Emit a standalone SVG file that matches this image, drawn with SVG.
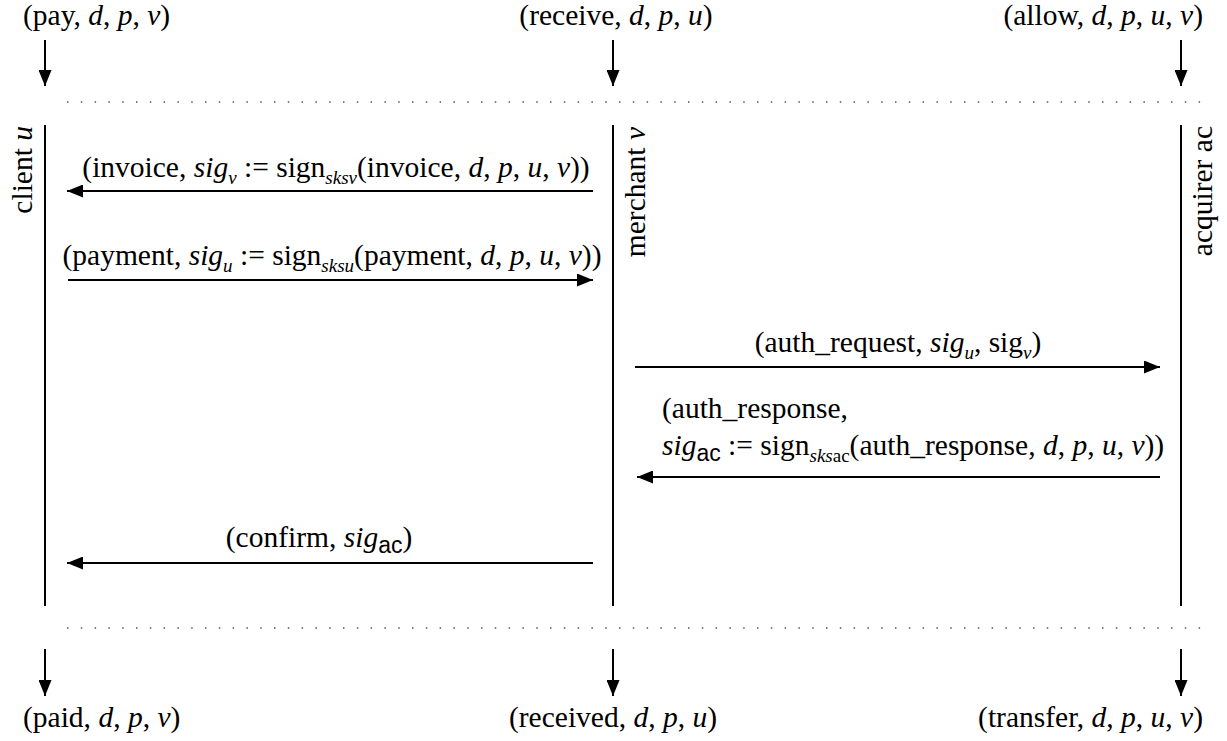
<svg xmlns="http://www.w3.org/2000/svg" width="1227" height="741" viewBox="0 0 1227 741">
<defs>
<style>
.t{font-family:"Liberation Serif","Times New Roman",Times,"DejaVu Serif",serif;font-size:29.5px;fill:#000}
.i{font-style:italic}
.sub{font-size:19px;font-style:italic}
.subr{font-size:19px;font-style:normal}
.ss{font-family:"Liberation Sans",Arial,sans-serif;font-size:23px;font-style:normal}
.life{stroke:#000;stroke-width:2;fill:none}
.msg{stroke:#000;stroke-width:2;fill:none;marker-end:url(#ah)}
.dot{stroke:#555;stroke-width:1.5;stroke-dasharray:1.5 12.3;fill:none}
</style>
<marker id="ah" markerUnits="userSpaceOnUse" markerWidth="16" markerHeight="13" refX="16" refY="6.5" orient="auto">
<path d="M0,0 L16,6.5 L0,13 z" fill="#000"/>
</marker>
</defs>
<rect width="1227" height="741" fill="#fff"/>

<g id="separators">
<line class="dot" x1="67" y1="102" x2="1205" y2="102"/>
<line class="dot" x1="67" y1="628" x2="1205" y2="628"/>
</g>

<g id="client">
<line class="life" x1="45" y1="125" x2="45" y2="606"/>
<text class="t" transform="translate(32,126) rotate(-90)" text-anchor="end">client <tspan class="i">u</tspan></text>
</g>
<g id="merchant">
<line class="life" x1="613" y1="125" x2="613" y2="606"/>
<text class="t" transform="translate(645,127) rotate(-90)" text-anchor="end">merchant <tspan class="i">v</tspan></text>
</g>
<g id="acquirer">
<line class="life" x1="1181" y1="125" x2="1181" y2="606"/>
<text class="t" transform="translate(1212,126) rotate(-90)" text-anchor="end">acquirer ac</text>
</g>

<g id="inputs">
<text class="t" x="23" y="25">(pay, <tspan class="i">d</tspan>, <tspan class="i">p</tspan>, <tspan class="i">v</tspan>)</text>
<text class="t" x="616" y="25" text-anchor="middle">(receive, <tspan class="i">d</tspan>, <tspan class="i">p</tspan>, <tspan class="i">u</tspan>)</text>
<text class="t" x="1203" y="25" text-anchor="end">(allow, <tspan class="i">d</tspan>, <tspan class="i">p</tspan>, <tspan class="i">u</tspan>, <tspan class="i">v</tspan>)</text>
</g>
<g id="outputs">
<text class="t" x="23" y="727">(paid, <tspan class="i">d</tspan>, <tspan class="i">p</tspan>, <tspan class="i">v</tspan>)</text>
<text class="t" x="613" y="727" text-anchor="middle">(received, <tspan class="i">d</tspan>, <tspan class="i">p</tspan>, <tspan class="i">u</tspan>)</text>
<text class="t" x="1203" y="727" text-anchor="end">(transfer, <tspan class="i">d</tspan>, <tspan class="i">p</tspan>, <tspan class="i">u</tspan>, <tspan class="i">v</tspan>)</text>
</g>

<g id="labels">
<text class="t" x="336" y="177" text-anchor="middle">(invoice, <tspan class="i">sig</tspan><tspan class="sub" dy="7">v</tspan><tspan dy="-7"> := sign</tspan><tspan class="sub" dy="7">sksv</tspan><tspan dy="-7">(invoice, </tspan><tspan class="i">d</tspan>, <tspan class="i">p</tspan>, <tspan class="i">u</tspan>, <tspan class="i">v</tspan>))</text>
<text class="t" x="332" y="265" text-anchor="middle">(payment, <tspan class="i">sig</tspan><tspan class="sub" dy="7">u</tspan><tspan dy="-7"> := sign</tspan><tspan class="sub" dy="7">sksu</tspan><tspan dy="-7">(payment, </tspan><tspan class="i">d</tspan>, <tspan class="i">p</tspan>, <tspan class="i">u</tspan>, <tspan class="i">v</tspan>))</text>
<text class="t" x="898" y="352" text-anchor="middle">(auth_request, <tspan class="i">sig</tspan><tspan class="sub" dy="7">u</tspan><tspan dy="-7">, sig</tspan><tspan class="sub" dy="7">v</tspan><tspan dy="-7">)</tspan></text>
<text class="t" x="662" y="418">(auth_response,</text>
<text class="t" x="662" y="455"><tspan class="i">sig</tspan><tspan class="ss" dy="6">ac</tspan><tspan dy="-6"> := sign</tspan><tspan class="sub" dy="7">sks</tspan><tspan class="subr">ac</tspan><tspan dy="-7">(auth_response, </tspan><tspan class="i">d</tspan>, <tspan class="i">p</tspan>, <tspan class="i">u</tspan>, <tspan class="i">v</tspan>))</text>
<text class="t" x="319" y="547" text-anchor="middle">(confirm, <tspan class="i">sig</tspan><tspan class="ss" dy="6">ac</tspan><tspan dy="-6">)</tspan></text>
</g>

<g id="connectors">
<line class="msg" x1="45" y1="40" x2="45" y2="86"/>
<line class="msg" x1="613" y1="40" x2="613" y2="86"/>
<line class="msg" x1="1181" y1="40" x2="1181" y2="86"/>
<line class="msg" x1="45" y1="649" x2="45" y2="696"/>
<line class="msg" x1="613" y1="649" x2="613" y2="696"/>
<line class="msg" x1="1181" y1="649" x2="1181" y2="696"/>
<line class="msg" x1="593" y1="191" x2="67" y2="191"/>
<line class="msg" x1="68" y1="280" x2="593" y2="280"/>
<line class="msg" x1="635" y1="367" x2="1160" y2="367"/>
<line class="msg" x1="1160" y1="477" x2="637" y2="477"/>
<line class="msg" x1="593" y1="563" x2="67" y2="563"/>
</g>
</svg>
